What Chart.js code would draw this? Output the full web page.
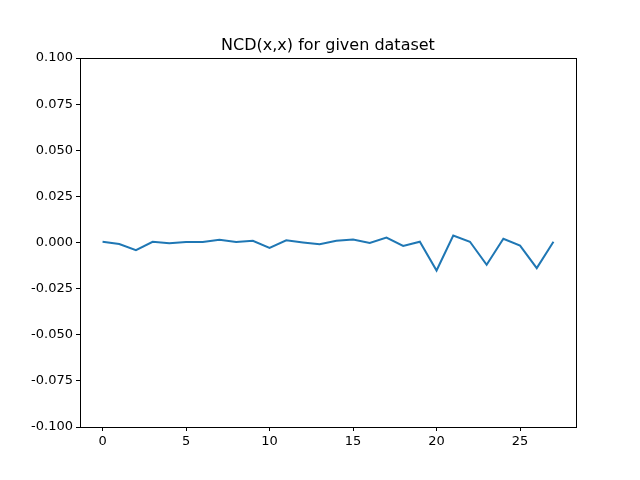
<!DOCTYPE html>
<html>
<head>
<meta charset="utf-8">
<script src="https://cdn.jsdelivr.net/npm/chart.js@4.4.0/dist/chart.umd.min.js"></script>
<style>
  body { margin: 0; background: #fff; }
  canvas { display: block; }
</style>
</head>
<body>
<canvas id="ncdChart" width="640" height="480"></canvas>
<script>
// values
const xIndex = [0, 1, 2, 3, 4, 5, 6, 7, 8, 9, 10, 11, 12, 13, 14, 15, 16, 17, 18, 19, 20, 21, 22, 23, 24, 25, 26, 27];
const ncdValues = [0.0004, -0.0008, -0.0042, 0.0004, -0.0004, 0.0003, 0.0003, 0.0015, 0.0003, 0.0009, -0.0029,
  0.0012, 0.0000, -0.0010, 0.0010, 0.0016, -0.0002, 0.0027, -0.0019, 0.0004, -0.0152, 0.0038, 0.0004, -0.0121,
  0.0020, -0.0017, -0.0139, 0.0004];
const xTicks = [0, 5, 10, 15, 20, 25];
const yTicks = [-0.1, -0.075, -0.05, -0.025, 0, 0.025, 0.05, 0.075, 0.1];
const chartTitle = 'NCD(x,x) for given dataset';

Chart.defaults.font.family = "'DejaVu Sans', sans-serif";
Chart.defaults.color = '#000';

// matplotlib style box round the axes, title centred over the axes
const frameBox = {
  id: 'frameBox',
  afterDraw(chart) {
    const a = chart.chartArea;
    const ctx = chart.ctx;
    ctx.save();
    ctx.strokeStyle = '#000';
    ctx.lineWidth = 1;
    ctx.strokeRect(Math.round(a.left) + 0.5, Math.round(a.top) + 0.5,
      Math.round(a.right - a.left), Math.round(a.bottom - a.top));
    ctx.fillStyle = '#000';
    ctx.font = "16px 'DejaVu Sans', sans-serif";
    ctx.textAlign = 'center';
    ctx.textBaseline = 'alphabetic';
    ctx.fillText(chartTitle, (a.left + a.right) / 2, a.top - 8.5);
    ctx.restore();
  }
};

new Chart(document.getElementById('ncdChart'), {
  type: 'line',
  data: {
    datasets: [{
      data: xIndex.map((x, i) => ({ x: x, y: ncdValues[i] })),
      borderColor: '#1f77b4',
      borderWidth: 2,
      pointRadius: 0,
      tension: 0,
      fill: false
    }]
  },
  options: {
    responsive: false,
    animation: false,
    layout: { padding: { left: 0, right: 64, top: 58, bottom: 0 } },
    plugins: {
      legend: { display: false },
      tooltip: { enabled: false },
      title: { display: false }
    },
    scales: {
      x: {
        type: 'linear',
        min: -1.35,
        max: 28.35,
        afterBuildTicks: s => { s.ticks = xTicks.map(v => ({ value: v })); },
        afterFit: s => { s.height = 53; },
        ticks: { font: { size: 13 }, padding: 3, maxRotation: 0, callback: v => v },
        grid: { display: true, drawOnChartArea: false, drawTicks: true, tickLength: 4, color: '#000' },
        border: { display: false }
      },
      y: {
        min: -0.1,
        max: 0.1,
        afterBuildTicks: s => { s.ticks = yTicks.map(v => ({ value: v })); },
        afterFit: s => { s.width = 80; },
        ticks: { font: { size: 13 }, padding: 3, callback: v => Number(v).toFixed(3) },
        grid: { display: true, drawOnChartArea: false, drawTicks: true, tickLength: 4, color: '#000' },
        border: { display: false }
      }
    }
  },
  plugins: [frameBox]
});
</script>
</body>
</html>
